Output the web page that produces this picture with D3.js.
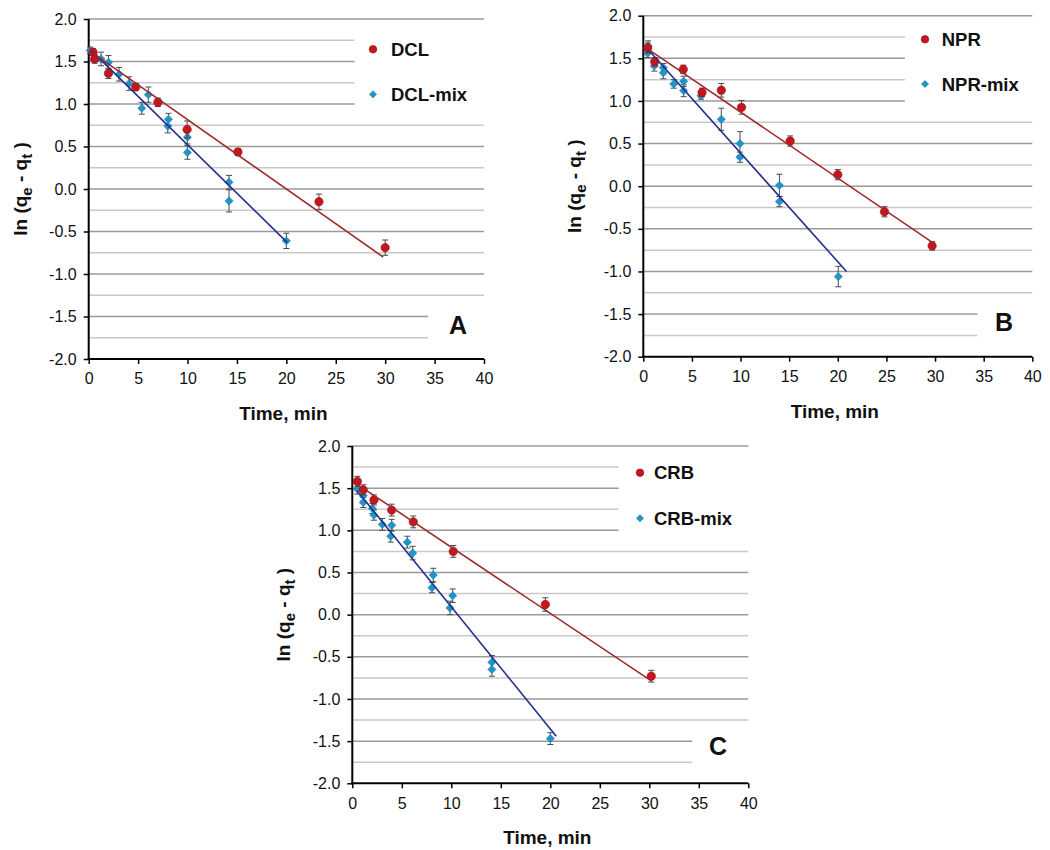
<!DOCTYPE html>
<html>
<head>
<meta charset="utf-8">
<script src="https://cdn.jsdelivr.net/npm/d3@7/dist/d3.min.js"></script>
<style>
  html, body { margin: 0; padding: 0; background: #fff; }
  svg { display: block; font-family: Arial, "Liberation Sans", sans-serif; }
</style>
</head>
<body>
<svg id="chart" width="1050" height="850"></svg>
<script>
// ---- Data: ln(qe - qt) versus time (min), pseudo-first-order kinetics ----
const xTicks = [0, 5, 10, 15, 20, 25, 30, 35, 40];
const yTicks = [-2.0, -1.5, -1.0, -0.5, 0.0, 0.5, 1.0, 1.5, 2.0];
const panelLetters = ["A", "B", "C"];
const seriesNames = [["DCL", "DCL-mix"], ["NPR", "NPR-mix"], ["CRB", "CRB-mix"]];

// Panel A
const timeDCL = [0.44, 0.6, 2.0, 4.76, 7.0, 9.96, 15.1, 23.3, 30.0];
const lnDCL   = [1.61, 1.53, 1.36, 1.20, 1.02, 0.70, 0.435, -0.15, -0.69];
const errDCL  = [0.04, 0.05, 0.06, 0.04, 0.05, 0.10, 0.04, 0.09, 0.09];
const timeDCLmix = [0.15, 1.25, 2.0, 3.07, 4.08, 5.37, 6.04, 8.07, 8.0, 9.99, 9.99, 14.2, 14.2, 20.0];
const lnDCLmix   = [1.63, 1.53, 1.49, 1.35, 1.24, 0.95, 1.11, 0.82, 0.74, 0.61, 0.43, 0.08, -0.14, -0.61];
const errDCLmix  = [0.04, 0.08, 0.08, 0.08, 0.08, 0.07, 0.09, 0.07, 0.08, 0.08, 0.08, 0.08, 0.13, 0.09];

// Panel B
const timeNPR = [0.45, 1.17, 4.11, 6.04, 8.02, 10.1, 15.1, 20.0, 24.8, 29.7];
const lnNPR   = [1.62, 1.46, 1.37, 1.10, 1.125, 0.925, 0.53, 0.135, -0.30, -0.70];
const errNPR  = [0.06, 0.05, 0.05, 0.05, 0.08, 0.08, 0.06, 0.06, 0.06, 0.05];
const timeNPRmix = [0.5, 0.45, 1.13, 2.06, 2.06, 3.13, 4.15, 4.15, 5.93, 8.02, 9.94, 9.94, 14.0, 14.0, 20.05];
const lnNPRmix   = [1.645, 1.56, 1.41, 1.39, 1.33, 1.20, 1.23, 1.12, 1.06, 0.785, 0.50, 0.34, 0.01, -0.18, -1.06];
const errNPRmix  = [0.06, 0.05, 0.06, 0.05, 0.07, 0.05, 0.06, 0.07, 0.04, 0.13, 0.14, 0.06, 0.13, 0.06, 0.12];

// Panel C
const timeCRB = [0.51, 1.11, 2.19, 3.98, 6.16, 10.2, 19.5, 30.2];
const lnCRB   = [1.58, 1.48, 1.36, 1.24, 1.10, 0.75, 0.12, -0.73];
const errCRB  = [0.06, 0.06, 0.06, 0.07, 0.07, 0.07, 0.08, 0.07];
const timeCRBmix = [0.51, 1.11, 1.11, 2.02, 2.19, 3.03, 3.98, 3.88, 5.56, 6.1, 8.18, 8.05, 10.14, 9.87, 14.1, 14.1, 20.0];
const lnCRBmix   = [1.49, 1.41, 1.33, 1.26, 1.18, 1.07, 1.06, 0.93, 0.86, 0.73, 0.47, 0.32, 0.225, 0.08, -0.565, -0.65, -1.47];
const errCRBmix  = [0.06, 0.06, 0.06, 0.06, 0.06, 0.07, 0.07, 0.07, 0.07, 0.08, 0.08, 0.06, 0.08, 0.08, 0.08, 0.08, 0.07];

// Linear trendlines: ln(qe - qt) = intercept + slope * t, drawn over [tStart, tEnd]
const fitSlope     = [[-0.0817, -0.114], [-0.0775, -0.1276], [-0.0785, -0.1448]];
const fitIntercept = [[1.634, 1.66], [1.645, 1.666], [1.585, 1.54]];
const fitStart     = [[0.4, 0.3], [0.45, 0.45], [0.5, 0.5]];
const fitEnd       = [[29.8, 20.1], [29.8, 20.9], [30.2, 20.6]];

const seriesData = [
  [[timeDCL, lnDCL, errDCL], [timeDCLmix, lnDCLmix, errDCLmix]],
  [[timeNPR, lnNPR, errNPR], [timeNPRmix, lnNPRmix, errNPRmix]],
  [[timeCRB, lnCRB, errCRB], [timeCRBmix, lnCRBmix, errCRBmix]]
];

// ---- Layout of the three panels ----
const layout = [
  { x0: 88.7,  x1: 484,    yTop: 19,   yBot: 359,   legX: 373, legTextX: 391,   legY: [49.3, 94.3],   letterX: 458,  letterY: 333.5 },
  { x0: 643.3, x1: 1032.3, yTop: 15.7, yBot: 356.7, legX: 925, legTextX: 941.7, legY: [39.3, 84.0],   letterX: 1004, letterY: 330.5 },
  { x0: 352.3, x1: 748.3,  yTop: 446,  yBot: 783.3, legX: 640, legTextX: 654,   legY: [472.7, 518.3], letterX: 718,  letterY: 755 }
];

const markerFill = ["#c4161c", "#1e96c8"];
const markerEdge = ["#8e0f14", "#167aa6"];
const lineColor  = ["#9e2b2b", "#232f8c"];

// Tick labels with a plain hyphen for negatives
const fmtY = v => d3.format(".1f")(v).replace("\u2212", "-");

// Diamond = square rotated by 45 degrees
const diamondPath = size => d3.symbol().type(d3.symbolSquare).size(size)();

const svg = d3.select("#chart");
svg.append("rect").attr("width", 1050).attr("height", 850).attr("fill", "#fff");

layout.forEach((L, p) => {
  const g = svg.append("g");
  const x = d3.scaleLinear().domain([0, 40]).range([L.x0, L.x1]);
  const y = d3.scaleLinear().domain([-2, 2]).range([L.yBot, L.yTop]);

  // Horizontal gridlines every 0.25 (major at 0.5 steps)
  const gridVals = d3.range(-1.75, 2.001, 0.25).map(v => Math.round(v * 100) / 100);
  const legendCut = x(26.9);
  const letterCut = x(34.35);
  g.append("g").selectAll("line").data(gridVals).join("line")
    .attr("x1", L.x0)
    .attr("x2", v => (v >= 1.0 && v <= 1.75) ? legendCut : (v <= -1.5 ? letterCut : L.x1))
    .attr("y1", v => y(v)).attr("y2", v => y(v))
    .attr("stroke", v => (Math.abs(v * 2 - Math.round(v * 2)) < 1e-6) ? "#9a9a9a" : "#c9c9c9")
    .attr("stroke-width", 1.5);

  // Axes
  const yAxis = d3.axisLeft(y).tickValues(yTicks).tickFormat(fmtY).tickSizeInner(5).tickSizeOuter(0).tickPadding(7);
  const xAxis = d3.axisBottom(x).tickValues(xTicks).tickFormat(d3.format("d")).tickSizeInner(5).tickSizeOuter(0).tickPadding(6);

  const ya = g.append("g").attr("transform", `translate(${L.x0},0)`).call(yAxis);
  const xa = g.append("g").attr("transform", `translate(0,${L.yBot})`).call(xAxis);
  [ya, xa].forEach(a => {
    a.select(".domain").attr("stroke", "#000").attr("stroke-width", 2);
    a.selectAll(".tick line").attr("stroke", "#000").attr("stroke-width", 1.5);
    a.selectAll(".tick text").attr("fill", "#111").attr("font-size", 16);
  });
  xa.selectAll(".tick text").attr("dy", "0.9em");
  ya.select(".domain").attr("d", `M0,${L.yBot + 1}V${L.yTop}`);
  xa.select(".domain").attr("d", `M${L.x0 - 1},0H${L.x1}`);

  // Axis titles
  g.append("text")
    .attr("x", (L.x0 + L.x1) / 2 - 3).attr("y", L.yBot + 61)
    .attr("text-anchor", "middle").attr("font-weight", "bold").attr("font-size", 19)
    .attr("fill", "#111")
    .text("Time, min");

  const yt = g.append("text")
    .attr("transform", `translate(${L.x0 - 62},${(L.yTop + L.yBot) / 2}) rotate(-90)`)
    .attr("text-anchor", "middle").attr("font-weight", "bold").attr("font-size", 19)
    .attr("fill", "#111");
  yt.append("tspan").text("ln (q");
  yt.append("tspan").attr("dy", 5).attr("font-size", 15).text("e");
  yt.append("tspan").attr("dy", -5).text(" - q");
  yt.append("tspan").attr("dy", 5).attr("font-size", 15).text("t");
  yt.append("tspan").attr("dy", -5).text(" )");

  // Panel letter
  g.append("text").attr("x", L.letterX).attr("y", L.letterY)
    .attr("text-anchor", "middle").attr("font-weight", "bold").attr("font-size", 25)
    .attr("fill", "#111").text(panelLetters[p]);

  // Series: error bars and markers (mix series drawn first, pure on top)
  [1, 0].forEach(s => {
    const [ts, vs, es] = seriesData[p][s];
    const pts = ts.map((t, i) => ({ t, v: vs[i], e: es[i] }));
    const sg = g.append("g");

    const eb = sg.append("g").attr("stroke", "#4a4a4a").attr("stroke-width", 1);
    eb.selectAll("line.bar").data(pts).join("line").attr("class", "bar")
      .attr("x1", d => x(d.t)).attr("x2", d => x(d.t))
      .attr("y1", d => y(d.v + d.e)).attr("y2", d => y(d.v - d.e));
    eb.selectAll("line.capt").data(pts).join("line").attr("class", "capt")
      .attr("x1", d => x(d.t) - 3).attr("x2", d => x(d.t) + 3)
      .attr("y1", d => y(d.v + d.e)).attr("y2", d => y(d.v + d.e));
    eb.selectAll("line.capb").data(pts).join("line").attr("class", "capb")
      .attr("x1", d => x(d.t) - 3).attr("x2", d => x(d.t) + 3)
      .attr("y1", d => y(d.v - d.e)).attr("y2", d => y(d.v - d.e));

    if (s === 0) {
      sg.selectAll("circle").data(pts).join("circle")
        .attr("cx", d => x(d.t)).attr("cy", d => y(d.v)).attr("r", 4.2)
        .attr("fill", markerFill[0]).attr("stroke", markerEdge[0]).attr("stroke-width", 0.6);
    } else {
      sg.selectAll("path.mk").data(pts).join("path").attr("class", "mk")
        .attr("d", diamondPath(34))
        .attr("transform", d => `translate(${x(d.t)},${y(d.v)}) rotate(45)`)
        .attr("fill", markerFill[1]).attr("stroke", markerEdge[1]).attr("stroke-width", 0.5);
    }
  });

  // Trendlines
  [1, 0].forEach(s => {
    const t0 = fitStart[p][s], t1 = fitEnd[p][s];
    const fit = t => fitIntercept[p][s] + fitSlope[p][s] * t;
    g.append("path")
      .datum([t0, t1])
      .attr("d", d3.line().x(t => x(t)).y(t => y(fit(t))))
      .attr("fill", "none").attr("stroke", lineColor[s]).attr("stroke-width", 1.6);
  });

  // Legend
  const lg = g.append("g");
  lg.append("circle").attr("cx", L.legX).attr("cy", L.legY[0]).attr("r", 3.8)
    .attr("fill", markerFill[0]).attr("stroke", markerEdge[0]).attr("stroke-width", 0.6);
  lg.append("path").attr("d", diamondPath(26))
    .attr("transform", `translate(${L.legX},${L.legY[1]}) rotate(45)`)
    .attr("fill", markerFill[1]).attr("stroke", markerEdge[1]).attr("stroke-width", 0.5);
  seriesNames[p].forEach((name, s) => {
    lg.append("text").attr("x", L.legTextX).attr("y", L.legY[s] + 6.5)
      .attr("font-weight", "bold").attr("font-size", 18.5).attr("fill", "#111")
      .text(name);
  });
});
</script>
</body>
</html>
